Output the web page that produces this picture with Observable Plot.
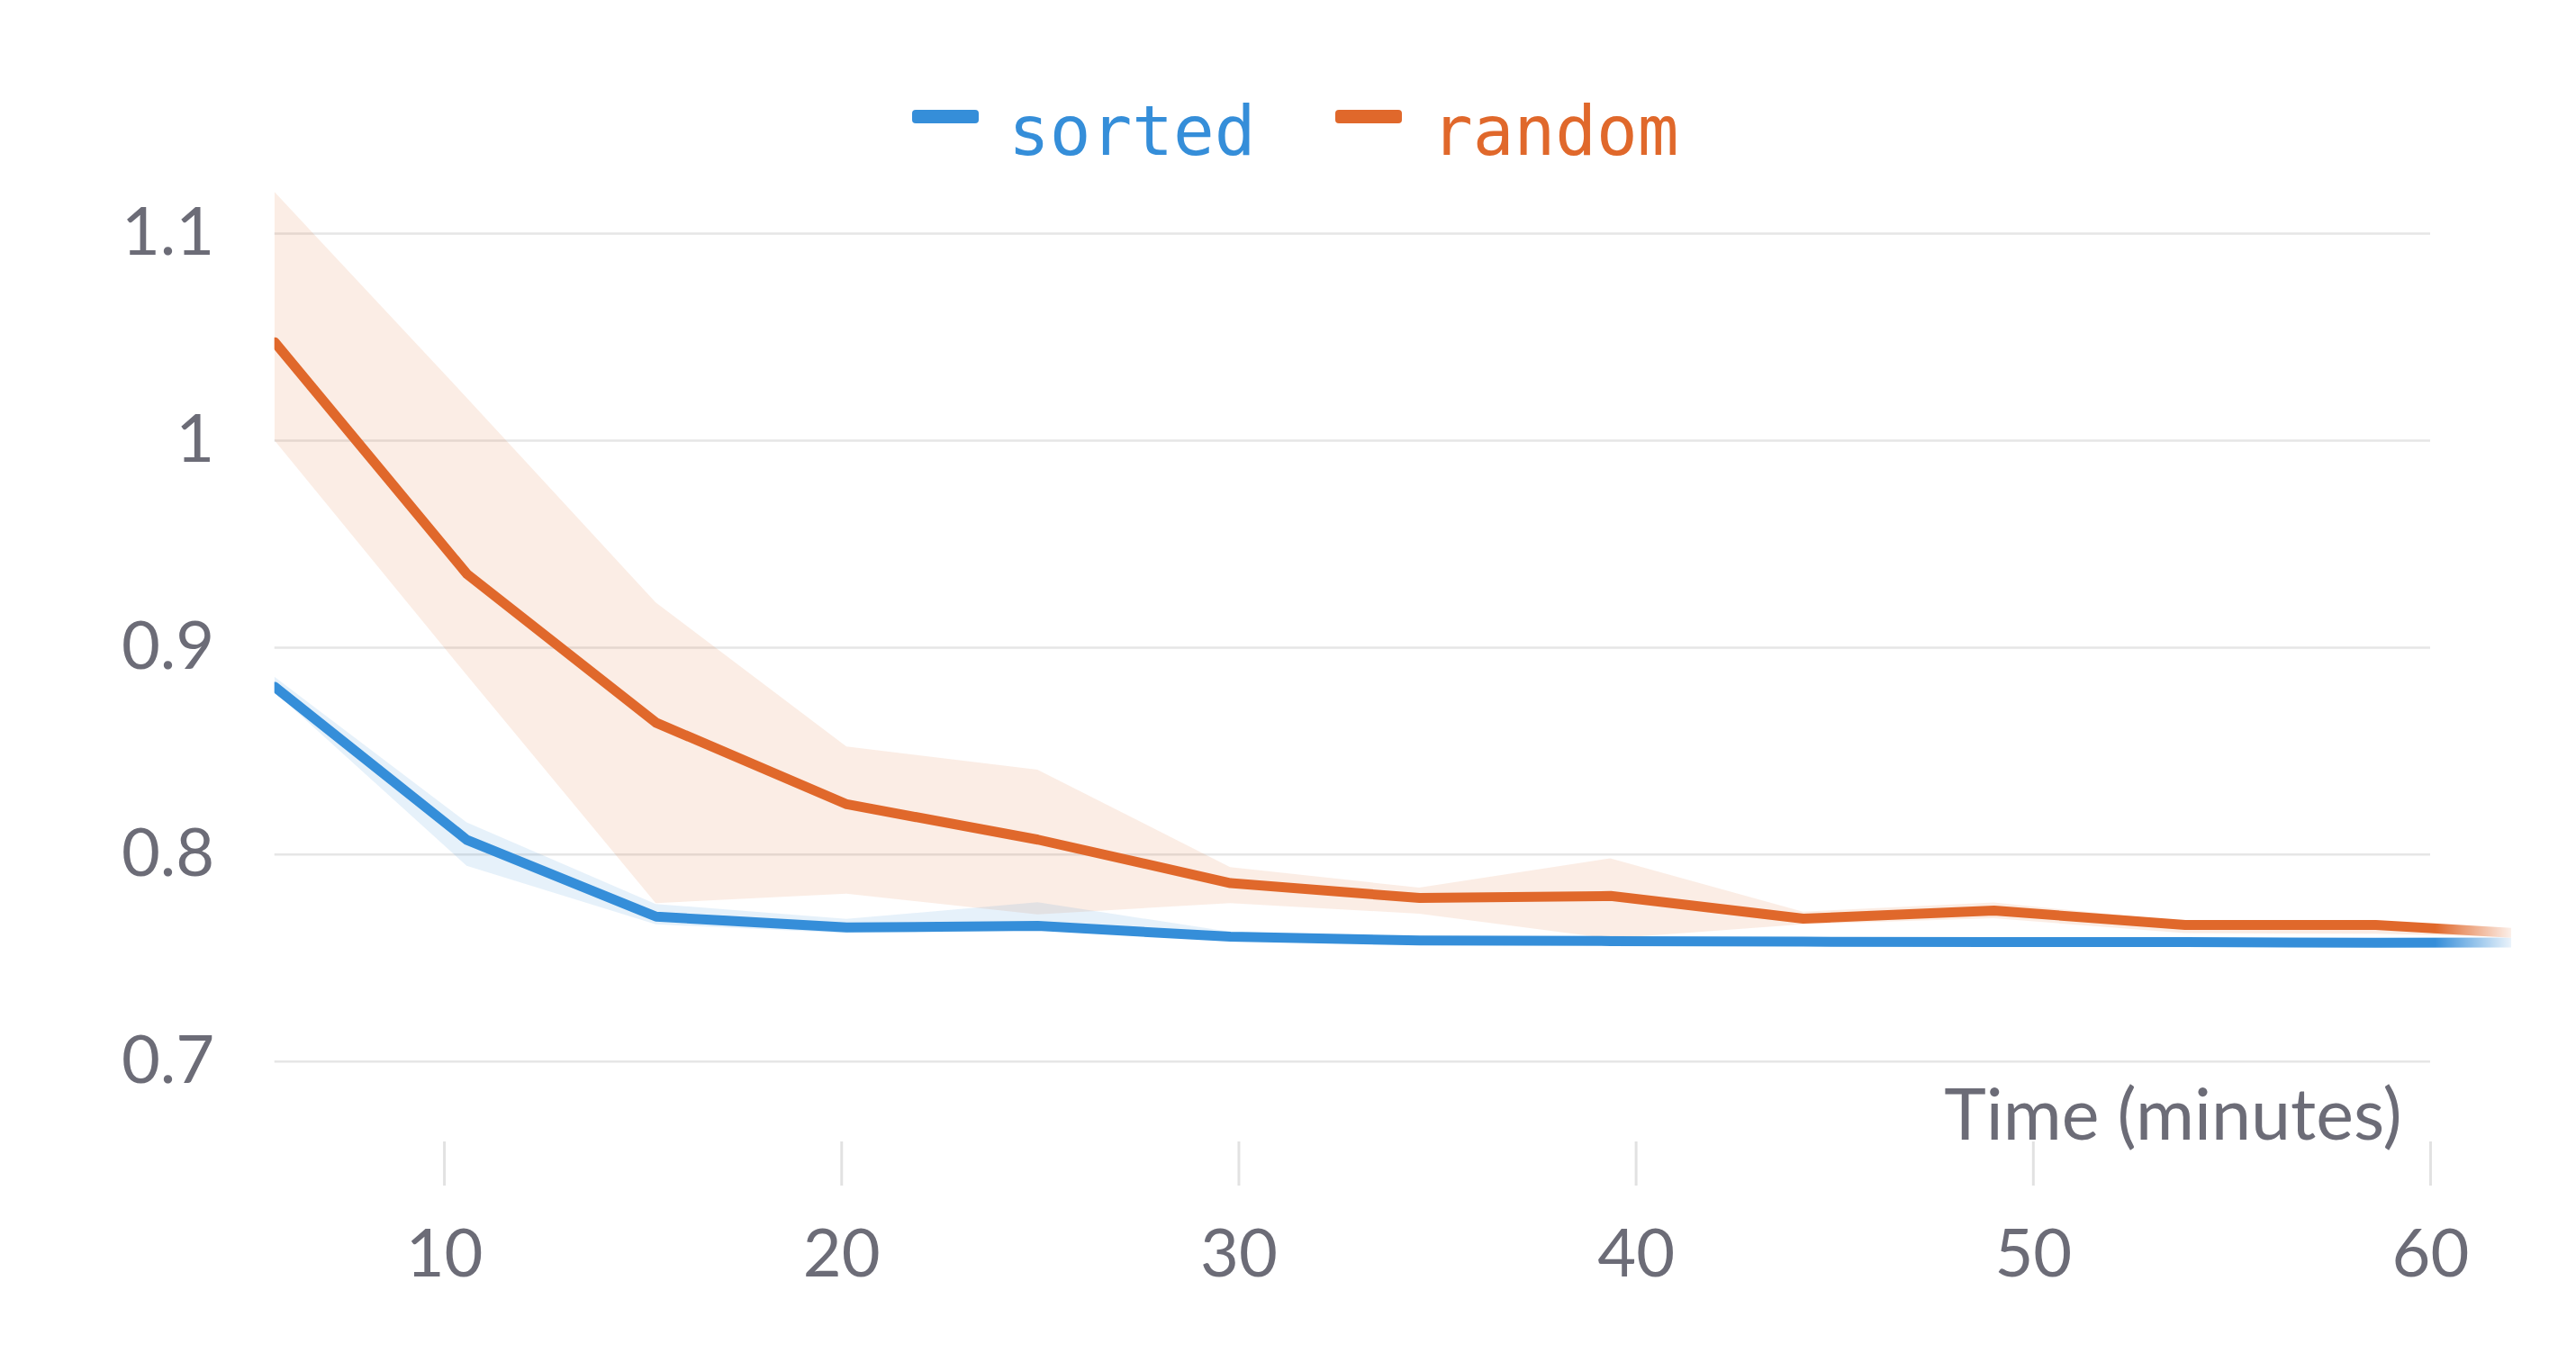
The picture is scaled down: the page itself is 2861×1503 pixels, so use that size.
<!DOCTYPE html>
<html>
<head>
<meta charset="utf-8">
<script src="https://cdn.jsdelivr.net/npm/d3@7"></script>
<script src="https://cdn.jsdelivr.net/npm/@observablehq/plot@0.6"></script>
<style>
  html, body { margin: 0; padding: 0; background: #fff; overflow: hidden; }
  #legend { display: block; }
</style>
</head>
<body>
<svg id="legend" width="2861" height="195"></svg>
<div id="chart"></div>
<script>
// ---- data ----
const seriesNames = ["sorted", "random"];
const seriesColors = ["#358ed9", "#e0682b"];
const minutes = [5.73, 10.57, 15.33, 20.13, 24.94, 29.79, 34.55, 39.36, 44.21, 49.01, 53.82, 58.62, 62.04];
const sortedMean = [0.881, 0.807, 0.770, 0.7648, 0.7655, 0.7603, 0.7585, 0.7582, 0.7579, 0.7577, 0.7577, 0.7574, 0.7575];
const sortedLow  = [0.8785, 0.7944, 0.7661, 0.7618, 0.7632, 0.7585, 0.757, 0.7565, 0.7565, 0.7563, 0.7563, 0.756, 0.756];
const sortedHigh = [0.8857, 0.8154, 0.7759, 0.7687, 0.7767, 0.7625, 0.760, 0.7605, 0.7592, 0.759, 0.759, 0.7588, 0.7588];
const randomMean = [1.0475, 0.9355, 0.8637, 0.8243, 0.8072, 0.7862, 0.779, 0.780, 0.769, 0.7729, 0.766, 0.766, 0.7622];
const randomLow  = [1.0, 0.8866, 0.7763, 0.7809, 0.7709, 0.7763, 0.7712, 0.7592, 0.7661, 0.769, 0.7618, 0.7615, 0.760];
const randomHigh = [1.12, 1.0206, 0.9216, 0.852, 0.8408, 0.7937, 0.7838, 0.798, 0.7722, 0.7766, 0.7675, 0.7675, 0.7635];
const xTicks = [10, 20, 30, 40, 50, 60];
const yTicks = [0.7, 0.8, 0.9, 1, 1.1];
const xLabel = ["Time (minutes)"];

// ---- tables ----
const sorted = minutes.map((m, i) => ({minute: m, mean: sortedMean[i], low: sortedLow[i], high: sortedHigh[i]}));
const random = minutes.map((m, i) => ({minute: m, mean: randomMean[i], low: randomLow[i], high: randomHigh[i]}));

const gray = "#6c6c77";
const xDomain = [minutes[0], minutes[minutes.length - 1]];

const chart = Plot.plot({
  width: 2861,
  height: 1308,
  marginLeft: 304.7,
  marginRight: 72,
  marginTop: 0,
  marginBottom: 235,
  x: {domain: xDomain, label: null},
  y: {domain: [0.7, 1.1], range: [983.7, 64.1], label: null},
  style: {fontFamily: "Lato, sans-serif", fontSize: "74px", color: gray, background: "#fff"},
  marks: [
    Plot.ruleY(yTicks, {x1: xDomain[0], x2: xTicks[xTicks.length - 1], stroke: "#e6e6e6", strokeWidth: 2.5}),
    Plot.areaY(random, {x: "minute", y1: "low", y2: "high", fill: seriesColors[1], fillOpacity: 0.12, clip: true}),
    Plot.areaY(sorted, {x: "minute", y1: "low", y2: "high", fill: seriesColors[0], fillOpacity: 0.12, clip: true}),
    Plot.lineY(sorted, {x: "minute", y: "mean", stroke: seriesColors[0], strokeWidth: 11, clip: true}),
    Plot.lineY(random, {x: "minute", y: "mean", stroke: seriesColors[1], strokeWidth: 11, clip: true}),
    Plot.rect([0], {x1: xTicks[xTicks.length - 1] + 0.12, x2: xDomain[1], y1: 0.7, y2: 1.1, fill: "url(#fadeRight)"}),
    Plot.axisY(yTicks, {tickSize: 0, tickPadding: 67, tickFormat: d => String(d), fill: gray}),
    Plot.axisX(xTicks, {tickSize: 49, tickPadding: 48, stroke: "#e2e2e2", strokeWidth: 3, fill: gray, tickFormat: d => String(d)}),
    Plot.text(xLabel, {text: d => d, frameAnchor: "bottom-right", dx: -122, dy: -28, textAnchor: "end", lineAnchor: "middle", fontSize: 79, fill: gray})
  ]
});

// gradient for the fading right edge
const defs = d3.select(chart).insert("defs", ":first-child");
const grad = defs.append("linearGradient").attr("id", "fadeRight").attr("x1", 0).attr("x2", 1).attr("y1", 0).attr("y2", 0);
grad.append("stop").attr("offset", "0%").attr("stop-color", "#fff").attr("stop-opacity", 0);
grad.append("stop").attr("offset", "100%").attr("stop-color", "#fff").attr("stop-opacity", 0.9);

document.getElementById("chart").appendChild(chart);

// ---- legend ----
const legend = d3.select("#legend");
const legendX = [1013, 1483];
seriesNames.forEach((name, i) => {
  legend.append("rect")
    .attr("x", legendX[i]).attr("y", 122).attr("width", 74).attr("height", 15).attr("rx", 4)
    .attr("fill", seriesColors[i]);
  legend.append("text")
    .attr("x", legendX[i] + 107).attr("y", 171.5)
    .attr("font-family", "'DejaVu Sans Mono', monospace").attr("font-size", 76)
    .attr("fill", seriesColors[i])
    .text(name);
});
</script>
</body>
</html>
